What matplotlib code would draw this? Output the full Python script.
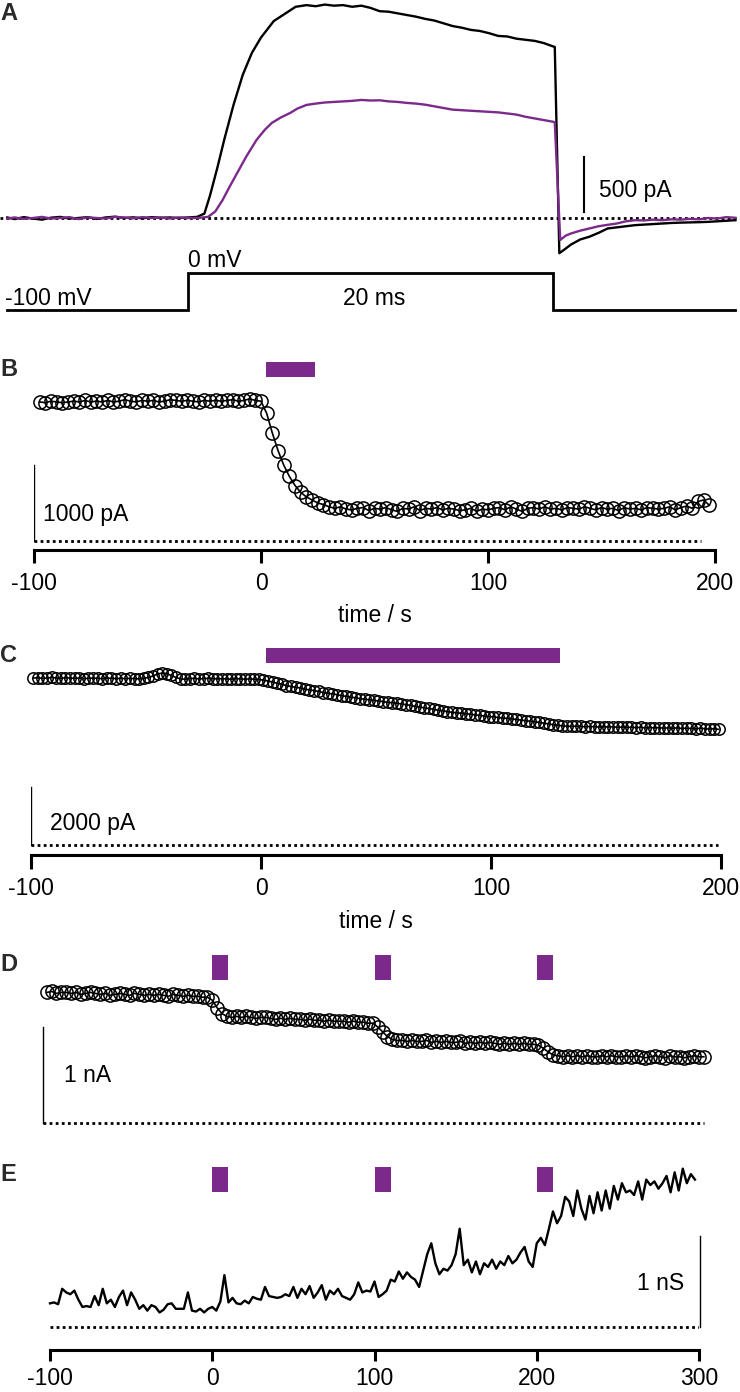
import numpy as np
import matplotlib.pyplot as plt

plt.rcParams['font.family'] = ['Liberation Sans', 'DejaVu Sans']
plt.rcParams['font.size'] = 16.5

W, H = 740, 1392
PURPLE = '#7b2a8c'
DOTS = (0, (1.0, 1.2))

# ---- panel A: current traces (ms, pA) and voltage step ----
tA_black = [-9.9, -9.5, -9, -8.5, -8, -7.5, -7, -6.5, -6, -5.5, -5, -4.5, -4, -3.5, -3, -2.5, -2, -1.5, -1, -0.5, 0,
            0.5, 0.9, 1.2, 1.6, 2.0, 2.5, 3.0, 3.5, 4.0, 4.7, 5.9,
            6.5, 7, 7.5, 8, 8.5, 9, 9.5, 10, 10.5, 11, 11.5, 12, 12.5, 13, 13.5, 14, 14.5, 15,
            15.5, 16, 16.5, 17, 17.5, 18, 18.5, 19, 19.5, 20,
            20.1, 20.35, 20.6,
            21, 21.5, 22, 22.5, 23, 23.5, 24, 24.5, 25, 25.5, 26, 26.5, 27, 27.5, 28, 28.5, 29, 29.5, 30]
iA_black = [5, -10, 8, -5, -15, 3, 10, -5, 0, 8, -8, 5, 12, 0, 6, -3, 8, 2, 5, 0, 5,
            10, 40, 200, 450, 720, 1030, 1300, 1500, 1640, 1790, 1920,
            1935, 1925, 1940, 1930, 1935, 1920, 1930, 1910, 1880, 1875, 1860, 1845, 1830, 1810, 1795, 1770, 1745, 1730,
            1710, 1700, 1680, 1655, 1650, 1630, 1620, 1610, 1590, 1560,
            1555, -320, -290,
            -240, -195, -170, -135, -95, -85, -75, -65, -60, -55, -50, -45, -42, -40, -38, -35, -30, -25, -20]

tA_purple = [-9.9, -9.5, -9, -8.5, -8, -7.5, -7, -6.5, -6, -5.5, -5, -4.5, -4, -3.5, -3, -2.5, -2, -1.5, -1, -0.5, 0,
             0.5, 1.1, 1.5, 1.9, 2.3, 2.7, 3.2, 3.76, 4.2, 4.6, 5.1, 5.6, 6.0,
             6.5, 7, 7.5, 8, 8.5, 9, 9.5, 10, 10.5, 11, 11.5, 12, 12.5, 13, 13.5, 14, 14.5, 15,
             15.5, 16, 16.5, 17, 17.5, 18, 18.5, 19, 19.5, 20,
             20.1, 20.4, 20.7,
             21, 21.5, 22, 22.5, 23, 23.5, 24, 24.5, 25, 25.5, 26, 26.5, 27, 27.5, 28, 28.5, 29, 29.5, 30]
iA_purple = [-5, 5, -8, 0, 10, -5, 0, 8, -10, 5, 0, -5, 10, 5, -3, 8, 0, 5, -5, 5, 0,
             0, 10, 60, 164, 290, 410, 560, 710, 800, 865, 915, 955, 995,
             1028, 1040, 1050, 1055, 1060, 1065, 1073, 1068, 1070, 1060, 1055, 1046, 1040, 1030, 1015, 1000, 985, 980,
             975, 970, 965, 960, 950, 940, 920, 905, 890, 875,
             870, -200, -160,
             -140, -115, -95, -75, -62, -50, -30, -20, -22, -15, -20, -12, -15, -8, -12, 0, -5, 8, 2]

tA_volt = [-9.9, 0, 0, 20, 20, 30]
vA_volt = [-100, -100, 0, 0, -100, -100]

# ---- panel B (s, pA) ----
tB = np.arange(-97.5, 198, 2.5)
iB = [1830, 1820, 1840, 1830, 1820, 1830, 1840, 1830, 1850, 1830,
      1840, 1830, 1850, 1830, 1840, 1860, 1840, 1830, 1850, 1840,
      1850, 1830, 1840, 1860, 1850, 1840, 1850, 1840, 1830, 1850,
      1840, 1850, 1840, 1850, 1860, 1840, 1850, 1870, 1850, 1840,
      1680, 1420, 1190, 1000, 850, 730, 640, 580, 540, 500,
      480, 450, 430, 450, 420, 410, 430, 440, 400, 430,
      420, 440, 410, 390, 430, 420, 450, 400, 430, 420,
      440, 410, 430, 420, 400, 410, 430, 390, 420, 410,
      430, 440, 410, 450, 420, 390, 430, 440, 420, 450,
      420, 430, 410, 440, 430, 420, 450, 430, 410, 440,
      420, 430, 400, 440, 420, 430, 410, 440, 430, 420,
      430, 450, 410, 440, 460, 430, 520, 540, 470]
barB = (2, 24)

# ---- panel C (s, pA) ----
tC = np.arange(-99, 200, 2)
iC = [5760, 5770, 5750, 5760, 5780, 5760, 5750, 5770, 5760, 5750,
      5760, 5740, 5750, 5760, 5750, 5740, 5760, 5750, 5740, 5750,
      5740, 5750, 5740, 5730, 5750, 5780, 5830, 5900, 5930, 5910,
      5850, 5780, 5730, 5720, 5740, 5750, 5730, 5740, 5750, 5740,
      5730, 5740, 5730, 5720, 5740, 5730, 5720, 5730, 5720, 5710,
      5690, 5660, 5620, 5580, 5550, 5500, 5470, 5440, 5420, 5380,
      5350, 5330, 5300, 5260, 5240, 5210, 5190, 5150, 5130, 5100,
      5080, 5050, 5030, 5010, 4990, 4970, 4950, 4920, 4910, 4890,
      4870, 4840, 4820, 4780, 4760, 4730, 4710, 4680, 4650, 4630,
      4600, 4580, 4560, 4550, 4530, 4510, 4490, 4470, 4450, 4430,
      4420, 4400, 4380, 4370, 4350, 4330, 4310, 4290, 4270, 4250,
      4230, 4200, 4180, 4150, 4130, 4110, 4100, 4090, 4100, 4090,
      4080, 4090, 4080, 4070, 4080, 4070, 4080, 4060, 4070, 4060,
      4060, 4050, 4060, 4040, 4050, 4040, 4050, 4030, 4040, 4030,
      4040, 4020, 4030, 4020, 4010, 4030, 4010, 4000, 4010, 3990]
barC = (2, 130)

# ---- panel D (s, nA) ----
tD = np.arange(-102, 304, 3)
iD = [1.36, 1.37, 1.35, 1.36, 1.36, 1.35, 1.36, 1.34, 1.35, 1.36,
      1.35, 1.34, 1.35, 1.33, 1.34, 1.35, 1.34, 1.33, 1.35, 1.34,
      1.33, 1.34, 1.33, 1.34, 1.33, 1.32, 1.34, 1.33, 1.32, 1.33,
      1.32, 1.32, 1.31, 1.31, 1.28, 1.20, 1.14, 1.11, 1.10, 1.11,
      1.10, 1.11, 1.10, 1.09, 1.10, 1.10, 1.09, 1.08, 1.09, 1.08,
      1.09, 1.08, 1.08, 1.07, 1.08, 1.07, 1.07, 1.06, 1.07, 1.06,
      1.06, 1.06, 1.05, 1.06, 1.05, 1.05, 1.04, 1.04, 1.00, 0.95,
      0.90, 0.87, 0.86, 0.86, 0.85, 0.86, 0.85, 0.85, 0.86, 0.84,
      0.85, 0.84, 0.85, 0.84, 0.84, 0.85, 0.83, 0.84, 0.83, 0.84,
      0.83, 0.84, 0.83, 0.82, 0.83, 0.82, 0.83, 0.82, 0.83, 0.82,
      0.82, 0.81, 0.78, 0.74, 0.71, 0.70, 0.69, 0.70, 0.69, 0.70,
      0.69, 0.70, 0.69, 0.69, 0.70, 0.69, 0.70, 0.69, 0.69, 0.70,
      0.69, 0.70, 0.69, 0.68, 0.69, 0.70, 0.69, 0.68, 0.70, 0.69,
      0.69, 0.68, 0.69, 0.70, 0.69, 0.69]

# ---- panel E (s, nS) ----
tE = np.arange(-100, 300, 2.5)
gE = [0.26, 0.27, 0.25, 0.42, 0.38, 0.36, 0.40, 0.30, 0.22, 0.23,
      0.22, 0.34, 0.24, 0.42, 0.26, 0.30, 0.22, 0.33, 0.40, 0.24,
      0.38, 0.30, 0.20, 0.24, 0.18, 0.24, 0.22, 0.16, 0.19, 0.25,
      0.26, 0.20, 0.20, 0.20, 0.38, 0.18, 0.17, 0.20, 0.16, 0.20,
      0.22, 0.18, 0.28, 0.57, 0.27, 0.32, 0.26, 0.25, 0.29, 0.26,
      0.33, 0.31, 0.30, 0.44, 0.34, 0.33, 0.32, 0.33, 0.36, 0.34,
      0.44, 0.32, 0.42, 0.36, 0.45, 0.32, 0.38, 0.46, 0.30, 0.40,
      0.36, 0.42, 0.34, 0.32, 0.30, 0.36, 0.49, 0.38, 0.40, 0.39,
      0.50, 0.33, 0.36, 0.40, 0.52, 0.50, 0.61, 0.53, 0.60, 0.55,
      0.52, 0.44, 0.62, 0.80, 0.92, 0.70, 0.58, 0.64, 0.62, 0.68,
      0.80, 1.08, 0.68, 0.74, 0.60, 0.72, 0.58, 0.70, 0.66, 0.74,
      0.64, 0.72, 0.68, 0.78, 0.70, 0.74, 0.82, 0.88, 0.72, 0.66,
      0.92, 0.98, 0.90, 1.08, 1.27, 1.14, 1.22, 1.43, 1.38, 1.22,
      1.50, 1.30, 1.18, 1.44, 1.25, 1.48, 1.28, 1.50, 1.30, 1.55,
      1.40, 1.58, 1.48, 1.50, 1.45, 1.60, 1.40, 1.62, 1.56, 1.60,
      1.52, 1.58, 1.66, 1.48, 1.70, 1.50, 1.74, 1.58, 1.68, 1.62]
barsDE = [(0, 10), (100, 110), (200, 210)]

fig = plt.figure(figsize=(W / 100, H / 100), dpi=100)


def box(x0, y0, x1, y1):
    # axes placed by pixel box (top-left origin)
    ax = fig.add_axes([x0 / W, 1 - y1 / H, (x1 - x0) / W, (y1 - y0) / H])
    ax.patch.set_visible(False)
    for s in ['top', 'right', 'left', 'bottom']:
        ax.spines[s].set_visible(False)
    ax.set_yticks([])
    ax.set_xticks([])
    return ax


def time_axis(ax, ticks, ticklen, pad):
    ax.spines['bottom'].set_visible(True)
    ax.spines['bottom'].set_linewidth(2.2)
    ax.set_xticks(ticks)
    ax.set_xticklabels([str(t) for t in ticks])
    ax.tick_params(axis='x', length=ticklen, width=2.2, pad=pad, labelsize=16.5)


def label(x, y, s):
    fig.text(x / W, 1 - y / H, s, ha='left', va='top', fontsize=17, fontweight='bold', color='#2a2a2a')


# A
axA = box(0, 0, 740, 262)
axA.set_xlim(-10.30, 30.25)
axA.set_ylim((218 - 262) * 9.09, 218 * 9.09)
axA.axhline(0, color='black', lw=2, ls=DOTS)
axA.plot(tA_black, iA_black, color='black', lw=1.7, clip_on=False)
axA.plot(tA_purple, iA_purple, color=PURPLE, lw=1.7, clip_on=False)
axA.plot([21.7, 21.7], [55, 555], color='black', lw=1.5)
axA.text(22.5, 191, '500 pA', ha='left', va='baseline')

axV = box(0, 262, 740, 320)
axV.set_xlim(-10.30, 30.25)
axV.set_ylim(-100 - 10 * 2.703, -100 + 48 * 2.703)
axV.plot(tA_volt, vA_volt, color='black', lw=2, solid_joinstyle='miter')
axV.text(-10.0, -86.5, '-100 mV', ha='left', va='baseline')
axV.text(0, 16.2, '0 mV', ha='left', va='baseline')
axV.text(10.2, -86.5, '20 ms', ha='center', va='baseline')

# B
axB = box(34, 355, 715, 550)
axB.set_xlim(-100, 200)
axB.set_ylim(-9 * 13.16, 195 * 13.16 - 9 * 13.16)
axB.plot([-100, 194], [0, 0], color='black', lw=2, ls=DOTS)
axB.plot([-100, -100], [0, 1000], color='black', lw=1)
axB.text(-96, 263, '1000 pA', ha='left', va='baseline')
axB.axvspan(barB[0], barB[1], ymin=0.887, ymax=0.964, color=PURPLE, lw=0)
axB.plot(tB, iB, color='black', lw=1.2, marker='o', ms=9.5, mfc='none', mec='black', mew=1.1, clip_on=False)
time_axis(axB, [-100, 0, 100, 200], 9.5, 6)
axB.set_xlabel('time / s', fontsize=16.5, labelpad=7)

# C
axC = box(31, 640, 721, 855)
axC.set_xlim(-100, 200)
axC.set_ylim(-10 * 34.5, 205 * 34.5)
axC.plot([-100, 198.7], [0, 0], color='black', lw=2, ls=DOTS)
axC.plot([-100, -100], [0, 2000], color='black', lw=1)
axC.text(-91.7, 518, '2000 pA', ha='left', va='baseline')
axC.axvspan(barC[0], barC[1], ymin=0.893, ymax=0.963, color=PURPLE, lw=0)
axC.plot(tC, iC, color='black', lw=1.2, marker='o', ms=8.2, mfc='none', mec='black', mew=1.1, clip_on=False)
time_axis(axC, [-100, 0, 100, 200], 10, 6)
axC.set_xlabel('time / s', fontsize=16.5, labelpad=7)

# D
axD = box(50, 950, 699, 1130)
axD.set_xlim(-100, 300)
axD.set_ylim(-7 / 96, 173 / 96)
axD.plot([-104.3, 303], [0, 0], color='black', lw=2, ls=DOTS, clip_on=False)
axD.plot([-104.3, -104.3], [0, 1], color='black', lw=1, clip_on=False)
axD.text(-91.4, 0.427, '1 nA', ha='left', va='baseline')
for b in barsDE:
    axD.axvspan(b[0], b[1], ymin=0.833, ymax=0.972, color=PURPLE, lw=0)
axD.plot(tD, iD, color='black', lw=1.2, marker='o', ms=9.5, mfc='none', mec='black', mew=1.1, clip_on=False)

# E
axE = box(50, 1160, 699, 1350)
axE.set_xlim(-100, 300)
axE.set_ylim(-23 / 91, 167 / 91)
axE.plot([-100, 300], [0, 0], color='black', lw=2, ls=DOTS)
axE.plot([300.6, 300.6], [0, 1], color='black', lw=1, clip_on=False)
axE.text(291, 0.407, '1 nS', ha='right', va='baseline')
for b in barsDE:
    axE.axvspan(b[0], b[1], ymin=0.832, ymax=0.963, color=PURPLE, lw=0)
axE.plot(tE, gE, color='black', lw=1.7, clip_on=False)
time_axis(axE, [-100, 0, 100, 200, 300], 8, 4)

label(0, 2, 'A')
label(0, 358, 'B')
label(0, 644, 'C')
label(0, 953, 'D')
label(0, 1163, 'E')

fig.savefig('out.png', dpi=100)
